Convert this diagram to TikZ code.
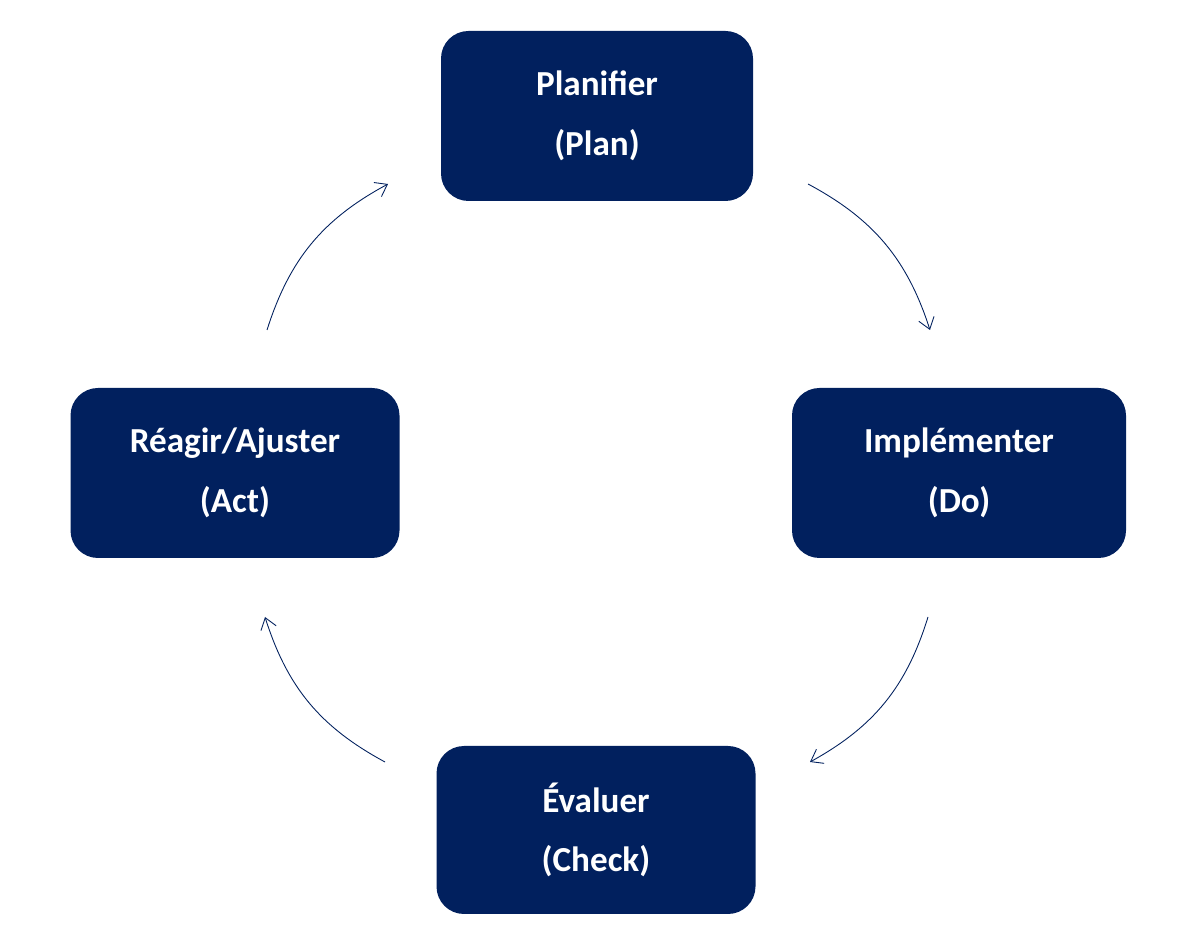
\documentclass[tikz,border=0pt]{standalone}
\usepackage{fontspec}
\setmainfont{Carlito}
\usetikzlibrary{positioning, arrows.meta, calc}
\definecolor{pdcanavy}{RGB}{1, 32, 94}
\tikzset{
  pdcastep/.style={draw=none, rectangle, rounded corners=0.55cm, fill=pdcanavy, text=white,
    font=\fontsize{20}{34}\selectfont\bfseries, align=center, minimum height=3.4cm},
  flow/.style={-{Straight Barb[length=2.2mm, width=3.2mm]}, draw=pdcanavy, line width=0.5pt, bend left=22}
}
\begin{document}
\begin{tikzpicture}
        \useasboundingbox (0,0) rectangle (23.92,18.9);

        \node[pdcastep, minimum width=6.24cm] (plan) at (11.94,16.58) {Planifier\\(Plan)};
        \node[pdcastep, minimum width=6.68cm] (do) at (19.18,9.44) {Implémenter\\(Do)};
        \node[pdcastep, minimum width=6.38cm, minimum height=3.36cm] (check) at (11.92,2.3) {Évaluer\\(Check)};
        \node[pdcastep, minimum width=6.58cm] (act) at (4.7,9.44) {Réagir/Ajuster\\(Act)};

        \coordinate (plan-out) at (16.16,15.22);
        \coordinate (do-in) at (18.6,12.3);
        \coordinate (do-out) at (18.56,6.56);
        \coordinate (check-in) at (16.2,3.66);
        \coordinate (check-out) at (7.7,3.66);
        \coordinate (act-in) at (5.3,6.56);
        \coordinate (act-out) at (5.34,12.3);
        \coordinate (plan-in) at (7.76,15.22);

        \draw[flow] (plan-out) to (do-in);
        \draw[flow] (do-out) to (check-in);
        \draw[flow] (check-out) to (act-in);
        \draw[flow] (act-out) to (plan-in);
    \end{tikzpicture}
\end{document}
